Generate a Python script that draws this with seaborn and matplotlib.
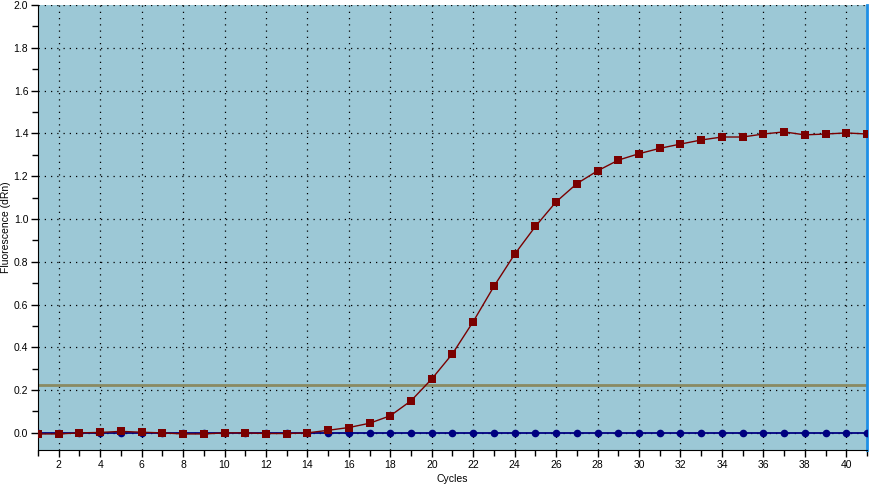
import numpy as np
import pandas as pd
import matplotlib
matplotlib.use('Agg')
import matplotlib.pyplot as plt
import seaborn as sns
from matplotlib.ticker import MultipleLocator

# 扩增曲线数据
cycles = list(range(1, 42))
sample_drn = [-0.005, -0.005, 0.0, 0.002, 0.007, 0.003, 0.0, -0.005, -0.005, 0.0,
              0.0, -0.003, -0.003, 0.0, 0.012, 0.025, 0.045, 0.08, 0.15, 0.252,
              0.37, 0.52, 0.685, 0.835, 0.965, 1.08, 1.165, 1.225, 1.275, 1.305,
              1.33, 1.35, 1.369, 1.383, 1.383, 1.397, 1.407, 1.393, 1.397, 1.402,
              1.397]
ntc_drn = [0.0] * 41
threshold = 0.225

sns.set_style('ticks')
plt.rcParams['font.family'] = ['Liberation Sans', 'DejaVu Sans']
plt.rcParams['text.color'] = 'black'
plt.rcParams['axes.labelcolor'] = 'black'
plt.rcParams['xtick.color'] = 'black'
plt.rcParams['ytick.color'] = 'black'

df = pd.DataFrame({'Cycles': cycles * 2,
                   'dRn': sample_drn + ntc_drn,
                   'well': ['sample'] * 41 + ['ntc'] * 41})

fig = plt.figure(figsize=(8.71, 4.87), dpi=100)
ax = fig.add_axes([0.0436, 0.076, 0.9518, 0.9137])
ax.set_facecolor('#9cc8d6')

# 阈值线
ax.axhline(threshold, color='#8a8a62', lw=2, zorder=2)

sns.lineplot(data=df[df['well'] == 'ntc'], x='Cycles', y='dRn', ax=ax,
             color='#000080', marker='o', markersize=5.5, markeredgewidth=0,
             lw=1.3, zorder=3)
sns.lineplot(data=df[df['well'] == 'sample'], x='Cycles', y='dRn', ax=ax,
             color='#7a0000', marker='s', markersize=6, markeredgewidth=0,
             lw=1, zorder=4)

ax.set_xlim(1, 41)
ax.set_ylim(-0.08, 2.0)
ax.xaxis.set_major_locator(MultipleLocator(2))
ax.xaxis.set_minor_locator(MultipleLocator(1))
ax.yaxis.set_minor_locator(MultipleLocator(0.1))
ax.set_yticks(np.arange(0, 2.01, 0.2))
ax.set_yticklabels(['{:.1f}'.format(v) for v in np.arange(0, 2.01, 0.2)])
ax.grid(True, which='major', color='black', linestyle=(0, (1, 4)), lw=0.9)
ax.tick_params(which='both', direction='out', labelsize=7.5, color='black',
               width=1, pad=2)
ax.tick_params(which='major', length=5)
ax.tick_params(which='minor', length=4)

ax.spines['top'].set_visible(False)
ax.spines['left'].set_color('black')
ax.spines['bottom'].set_color('black')
ax.spines['right'].set_color('#1e8fe6')
ax.spines['right'].set_linewidth(2)

ax.set_xlabel('Cycles', fontsize=7.5, labelpad=3)
ax.set_ylabel('Fluorescence (dRn)', fontsize=7.5, labelpad=2)

plt.savefig('out.png', dpi=100)
